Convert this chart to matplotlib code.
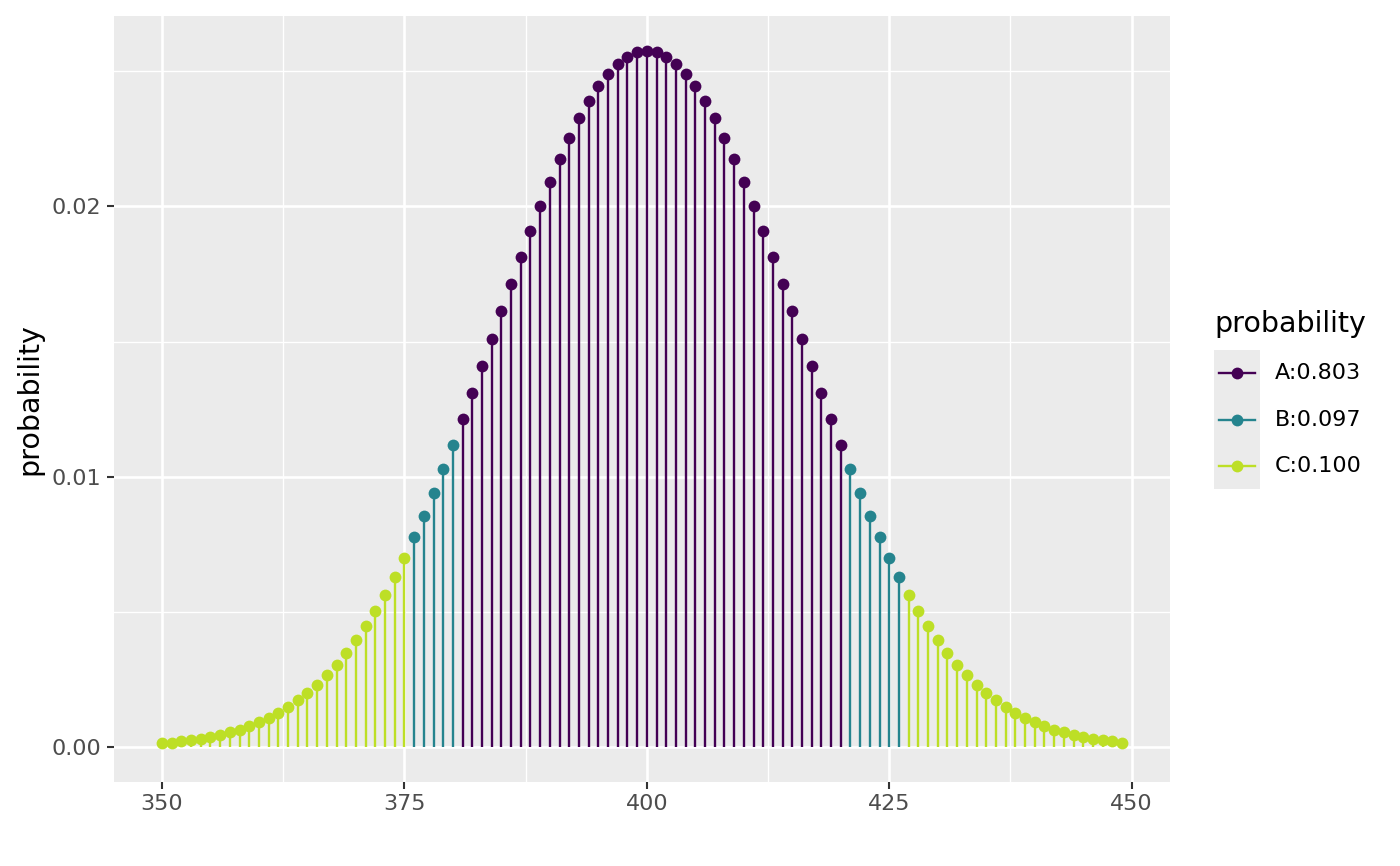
import matplotlib
matplotlib.use("Agg")
import matplotlib.pyplot as plt
from matplotlib.patches import Rectangle
from matplotlib.lines import Line2D

# x values 350..449
x_start = 350
probs = [
    0.000141, 0.000173, 0.000212, 0.000258, 0.000314, 0.000379, 0.000456, 0.000547, 0.000653, 0.000776,
    0.000919, 0.001083, 0.001271, 0.001487, 0.001731, 0.002006, 0.002316, 0.002664, 0.003050, 0.003478,
    0.003949, 0.004465, 0.005029, 0.005639, 0.006298, 0.007004, 0.007756, 0.008554, 0.009395, 0.010275,
    0.011192, 0.012139, 0.013112, 0.014104, 0.015107, 0.016115, 0.017119, 0.018110, 0.019078, 0.020014,
    0.020909, 0.021753, 0.022537, 0.023253, 0.023891, 0.024445, 0.024908, 0.025274, 0.025538, 0.025698,
    0.025752, 0.025698, 0.025538, 0.025274, 0.024908, 0.024445, 0.023891, 0.023253, 0.022537, 0.021753,
    0.020909, 0.020014, 0.019078, 0.018110, 0.017119, 0.016115, 0.015107, 0.014104, 0.013112, 0.012139,
    0.011192, 0.010275, 0.009395, 0.008554, 0.007756, 0.007004, 0.006298, 0.005639, 0.005029, 0.004465,
    0.003949, 0.003478, 0.003050, 0.002664, 0.002316, 0.002006, 0.001731, 0.001487, 0.001271, 0.001083,
    0.000919, 0.000776, 0.000653, 0.000547, 0.000456, 0.000379, 0.000314, 0.000258, 0.000212, 0.000173,
]
xs = list(range(x_start, x_start + len(probs)))

# region boundaries: A = 381..420, B = 376..380 & 421..426, C = rest
a_range = (381, 420)
b_ranges = [(376, 380), (421, 426)]
group_labels = ["A:0.803", "B:0.097", "C:0.100"]
legend_title = "probability"

cmap = plt.get_cmap("viridis")
group_colors = [cmap(0.0), cmap(0.45), cmap(0.9)]

def group_of(x):
    if a_range[0] <= x <= a_range[1]:
        return 0
    for lo, hi in b_ranges:
        if lo <= x <= hi:
            return 1
    return 2

W, H = 1400, 866
fig = plt.figure(figsize=(W / 100, H / 100), dpi=100)
fig.patch.set_facecolor("white")

pl, pr, pt, pb = 114, 1170, 16, 782
ax = fig.add_axes([pl / W, 1 - pb / H, (pr - pl) / W, (pb - pt) / H])
ax.set_facecolor("#EBEBEB")

rng = max(xs) - min(xs)
ax.set_xlim(min(xs) - 0.05 * rng, max(xs) + 0.05 * rng)
ymin, ymax = 0.0, max(probs)
yr = ymax - ymin
ax.set_ylim(ymin - 0.05 * yr, ymax + 0.05 * yr)

ax.set_xticks([350, 375, 400, 425, 450])
ax.set_xticks([362.5, 387.5, 412.5, 437.5], minor=True)
ax.set_yticks([0.0, 0.01, 0.02])
ax.set_yticklabels(["0.00", "0.01", "0.02"])
ax.set_yticks([0.005, 0.015, 0.025], minor=True)

ax.grid(True, which="major", color="white", linewidth=1.9)
ax.grid(True, which="minor", color="white", linewidth=0.95)
ax.set_axisbelow(True)
for s in ax.spines.values():
    s.set_visible(False)
ax.tick_params(which="major", length=5, width=1.5, color="#333333",
               labelcolor="#4D4D4D", labelsize=16, pad=4)
ax.tick_params(which="minor", length=0)

for x, p in zip(xs, probs):
    c = group_colors[group_of(x)]
    ax.vlines(x, 0, p, color=c, linewidth=1.7, zorder=2)
    ax.plot([x], [p], "o", color=c, markersize=8.5, markeredgewidth=0, zorder=3)

ax.set_ylabel("probability", fontsize=20.5, color="black")
ax.yaxis.set_label_coords((43 - pl) / (pr - pl), 0.5)

# legend drawn in figure pixel coordinates
def fx(px):
    return px / W

def fy(py):
    return 1 - py / H

fig.text(fx(1214), fy(324), legend_title, fontsize=20.5, ha="left", va="center")
kx0, kx1 = 1214, 1260
fig.patches.append(Rectangle((fx(kx0), fy(489)), fx(kx1) - fx(kx0), fy(350) - fy(489),
                             transform=fig.transFigure, facecolor="#EBEBEB",
                             edgecolor="none", zorder=1))
key_y = [373, 420, 466]
for ky, col, lab in zip(key_y, group_colors, group_labels):
    fig.add_artist(Line2D([fx(1219), fx(1255)], [fy(ky), fy(ky)], color=col,
                          linewidth=1.7, transform=fig.transFigure, zorder=2))
    fig.add_artist(Line2D([fx(1237)], [fy(ky)], marker="o", color=col, markersize=8.5,
                          markeredgewidth=0, transform=fig.transFigure, zorder=3))
    fig.text(fx(1275), fy(ky), lab, fontsize=16, ha="left", va="center")

fig.savefig("out.png", dpi=100)
